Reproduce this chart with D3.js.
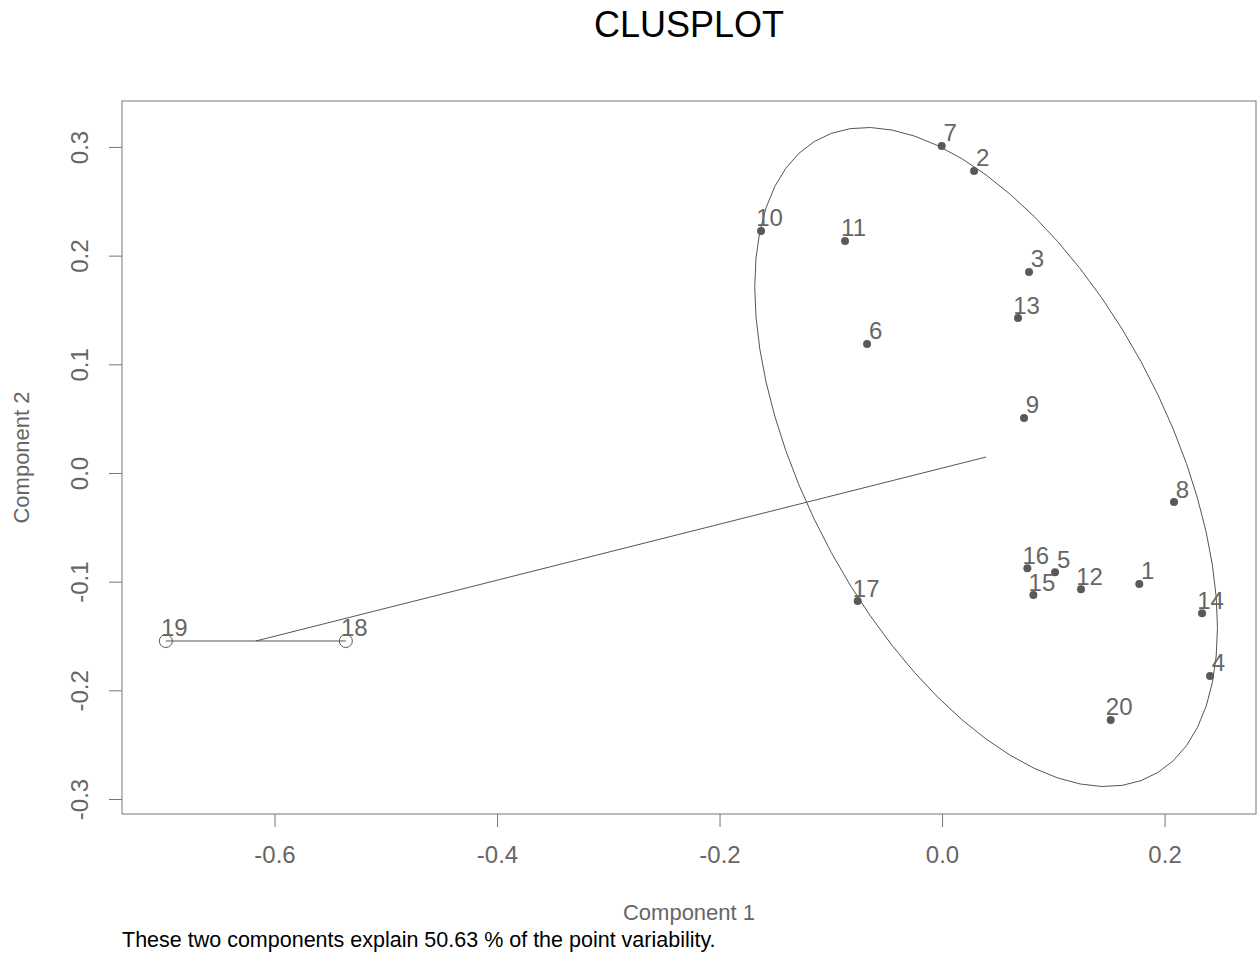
<!DOCTYPE html>
<html>
<head>
<meta charset="utf-8">
<script src="https://cdn.jsdelivr.net/npm/d3@7"></script>
<style>
  body { margin: 0; background: #fff; }
  text { font-family: "Liberation Sans", Arial, Helvetica, sans-serif; }
</style>
</head>
<body>
<svg id="chart" width="1257" height="957"></svg>
<script>
// point labels and their two components
const labels = ["1","2","3","4","5","6","7","8","9","10","11","12","13","14","15","16","17","18","19","20"]
const comp1 = [0.1773, 0.0288, 0.0782, 0.2409, 0.1016, -0.0674, -0.0003, 0.2085, 0.0737, -0.1627,
               -0.0872, 0.1249, 0.0683, 0.2337, 0.0821, 0.0767, -0.0758, -0.5359, -0.6977, 0.1516]
const comp2 = [-0.1021, 0.2779, 0.1850, -0.1868, -0.0914, 0.1187, 0.3009, -0.0267, 0.0506, 0.2227,
               0.2135, -0.1070, 0.1426, -0.1291, -0.1123, -0.0877, -0.1178, -0.1546, -0.1546, -0.2273]
const cluster = [1,1,1,1,1,1,1,1,1,1,1,1,1,1,1,1,1,2,2,1]

// cluster 1 ellipse: centre and shape matrix (sxx, sxy, syy)
const ellCenter = [0.0396, 0.0147]
const ellShape = [0.04325, -0.03262, 0.09196]

const xTicks = [-0.6, -0.4, -0.2, 0.0, 0.2]
const yTicks = [-0.3, -0.2, -0.1, 0.0, 0.1, 0.2, 0.3]
const xDomain = [-0.7371, 0.2822]
const yDomain = [-0.3138, 0.3423]

const margin = {top: 101, right: 1, bottom: 143, left: 122}
const W = 1257, H = 957
const svg = d3.select("#chart")

const x = d3.scaleLinear().domain(xDomain).range([margin.left, W - margin.right])
const y = d3.scaleLinear().domain(yDomain).range([H - margin.bottom, margin.top])

const grey = "#666666"

// title
svg.append("text")
   .attr("x", (x.range()[0] + x.range()[1]) / 2)
   .attr("y", 37)
   .attr("text-anchor", "middle")
   .style("font-size", "36px")
   .attr("fill", "#000")
   .text("CLUSPLOT")

// axes
const axX = svg.append("g")
   .attr("transform", `translate(0, ${y.range()[0]})`)
   .call(d3.axisBottom(x).tickValues(xTicks).tickSize(13).tickSizeOuter(0).tickFormat(d => d.toFixed(1)))
axX.select(".domain").remove()
axX.selectAll("line").attr("stroke", "#777")
axX.selectAll("text").attr("y", 49).attr("dy", 0)
   .style("font-size", "24px").attr("fill", grey)

const axY = svg.append("g")
   .attr("transform", `translate(${x.range()[0]}, 0)`)
   .call(d3.axisLeft(y).tickValues(yTicks).tickSize(13).tickSizeOuter(0).tickFormat(d => d.toFixed(1)))
axY.select(".domain").remove()
axY.selectAll("line").attr("stroke", "#777")
axY.selectAll("text")
   .attr("transform", "rotate(-90)")
   .attr("x", 0).attr("y", -34).attr("dy", 0)
   .attr("text-anchor", "middle")
   .style("font-size", "24px").attr("fill", grey)

// frame
svg.append("rect")
   .attr("x", x.range()[0]).attr("y", y.range()[1])
   .attr("width", x.range()[1] - x.range()[0])
   .attr("height", y.range()[0] - y.range()[1])
   .attr("fill", "none").attr("stroke", "#777").attr("stroke-width", 1)

// axis titles
svg.append("text")
   .attr("x", (x.range()[0] + x.range()[1]) / 2).attr("y", 920)
   .attr("text-anchor", "middle")
   .style("font-size", "22px").attr("fill", grey)
   .text("Component 1")

svg.append("text")
   .attr("transform", `translate(29, ${(y.range()[0] + y.range()[1]) / 2}) rotate(-90)`)
   .attr("text-anchor", "middle")
   .style("font-size", "22px").attr("fill", grey)
   .text("Component 2")

svg.append("text")
   .attr("x", 122).attr("y", 947)
   .style("font-size", "21.5px").attr("fill", "#000")
   .text("These two components explain 50.63 % of the point variability.")

// ellipse of cluster 1
const l11 = Math.sqrt(ellShape[0])
const l21 = ellShape[1] / l11
const l22 = Math.sqrt(ellShape[2] - l21 * l21)
const ellPts = d3.range(0, 61).map(i => {
  const t = i / 60 * 2 * Math.PI
  const u = Math.cos(t), v = Math.sin(t)
  return [ellCenter[0] + l11 * u, ellCenter[1] + l21 * u + l22 * v]
})
const line = d3.line().x(d => x(d[0])).y(d => y(d[1]))

svg.append("path")
   .datum(ellPts)
   .attr("d", line)
   .attr("fill", "none").attr("stroke", "#555").attr("stroke-width", 1)

// cluster 2 is a segment between its two points
const c2 = d3.range(labels.length).filter(i => cluster[i] === 2)
const seg = c2.map(i => [comp1[i], comp2[i]])
svg.append("path")
   .datum(seg)
   .attr("d", line)
   .attr("fill", "none").attr("stroke", "#555").attr("stroke-width", 1)

// line between cluster centres
const c2Center = [d3.mean(c2, i => comp1[i]), d3.mean(c2, i => comp2[i])]
svg.append("path")
   .datum([ellCenter, c2Center])
   .attr("d", line)
   .attr("fill", "none").attr("stroke", "#555").attr("stroke-width", 1)

// points
const idx = d3.range(labels.length)
svg.selectAll("circle.pt")
   .data(idx)
   .enter()
   .append("circle")
   .attr("class", "pt")
   .attr("cx", i => x(comp1[i]))
   .attr("cy", i => y(comp2[i]))
   .attr("r", i => cluster[i] === 1 ? 4 : 6.5)
   .attr("fill", i => cluster[i] === 1 ? "#595959" : "none")
   .attr("stroke", i => cluster[i] === 1 ? "none" : "#595959")
   .attr("stroke-width", 1)

svg.selectAll("text.lab")
   .data(idx)
   .enter()
   .append("text")
   .attr("class", "lab")
   .attr("x", i => x(comp1[i]) + 8.5)
   .attr("y", i => y(comp2[i]) - 4.5)
   .attr("text-anchor", "middle")
   .style("font-size", "24px")
   .attr("fill", grey)
   .text(i => labels[i])
</script>
</body>
</html>
